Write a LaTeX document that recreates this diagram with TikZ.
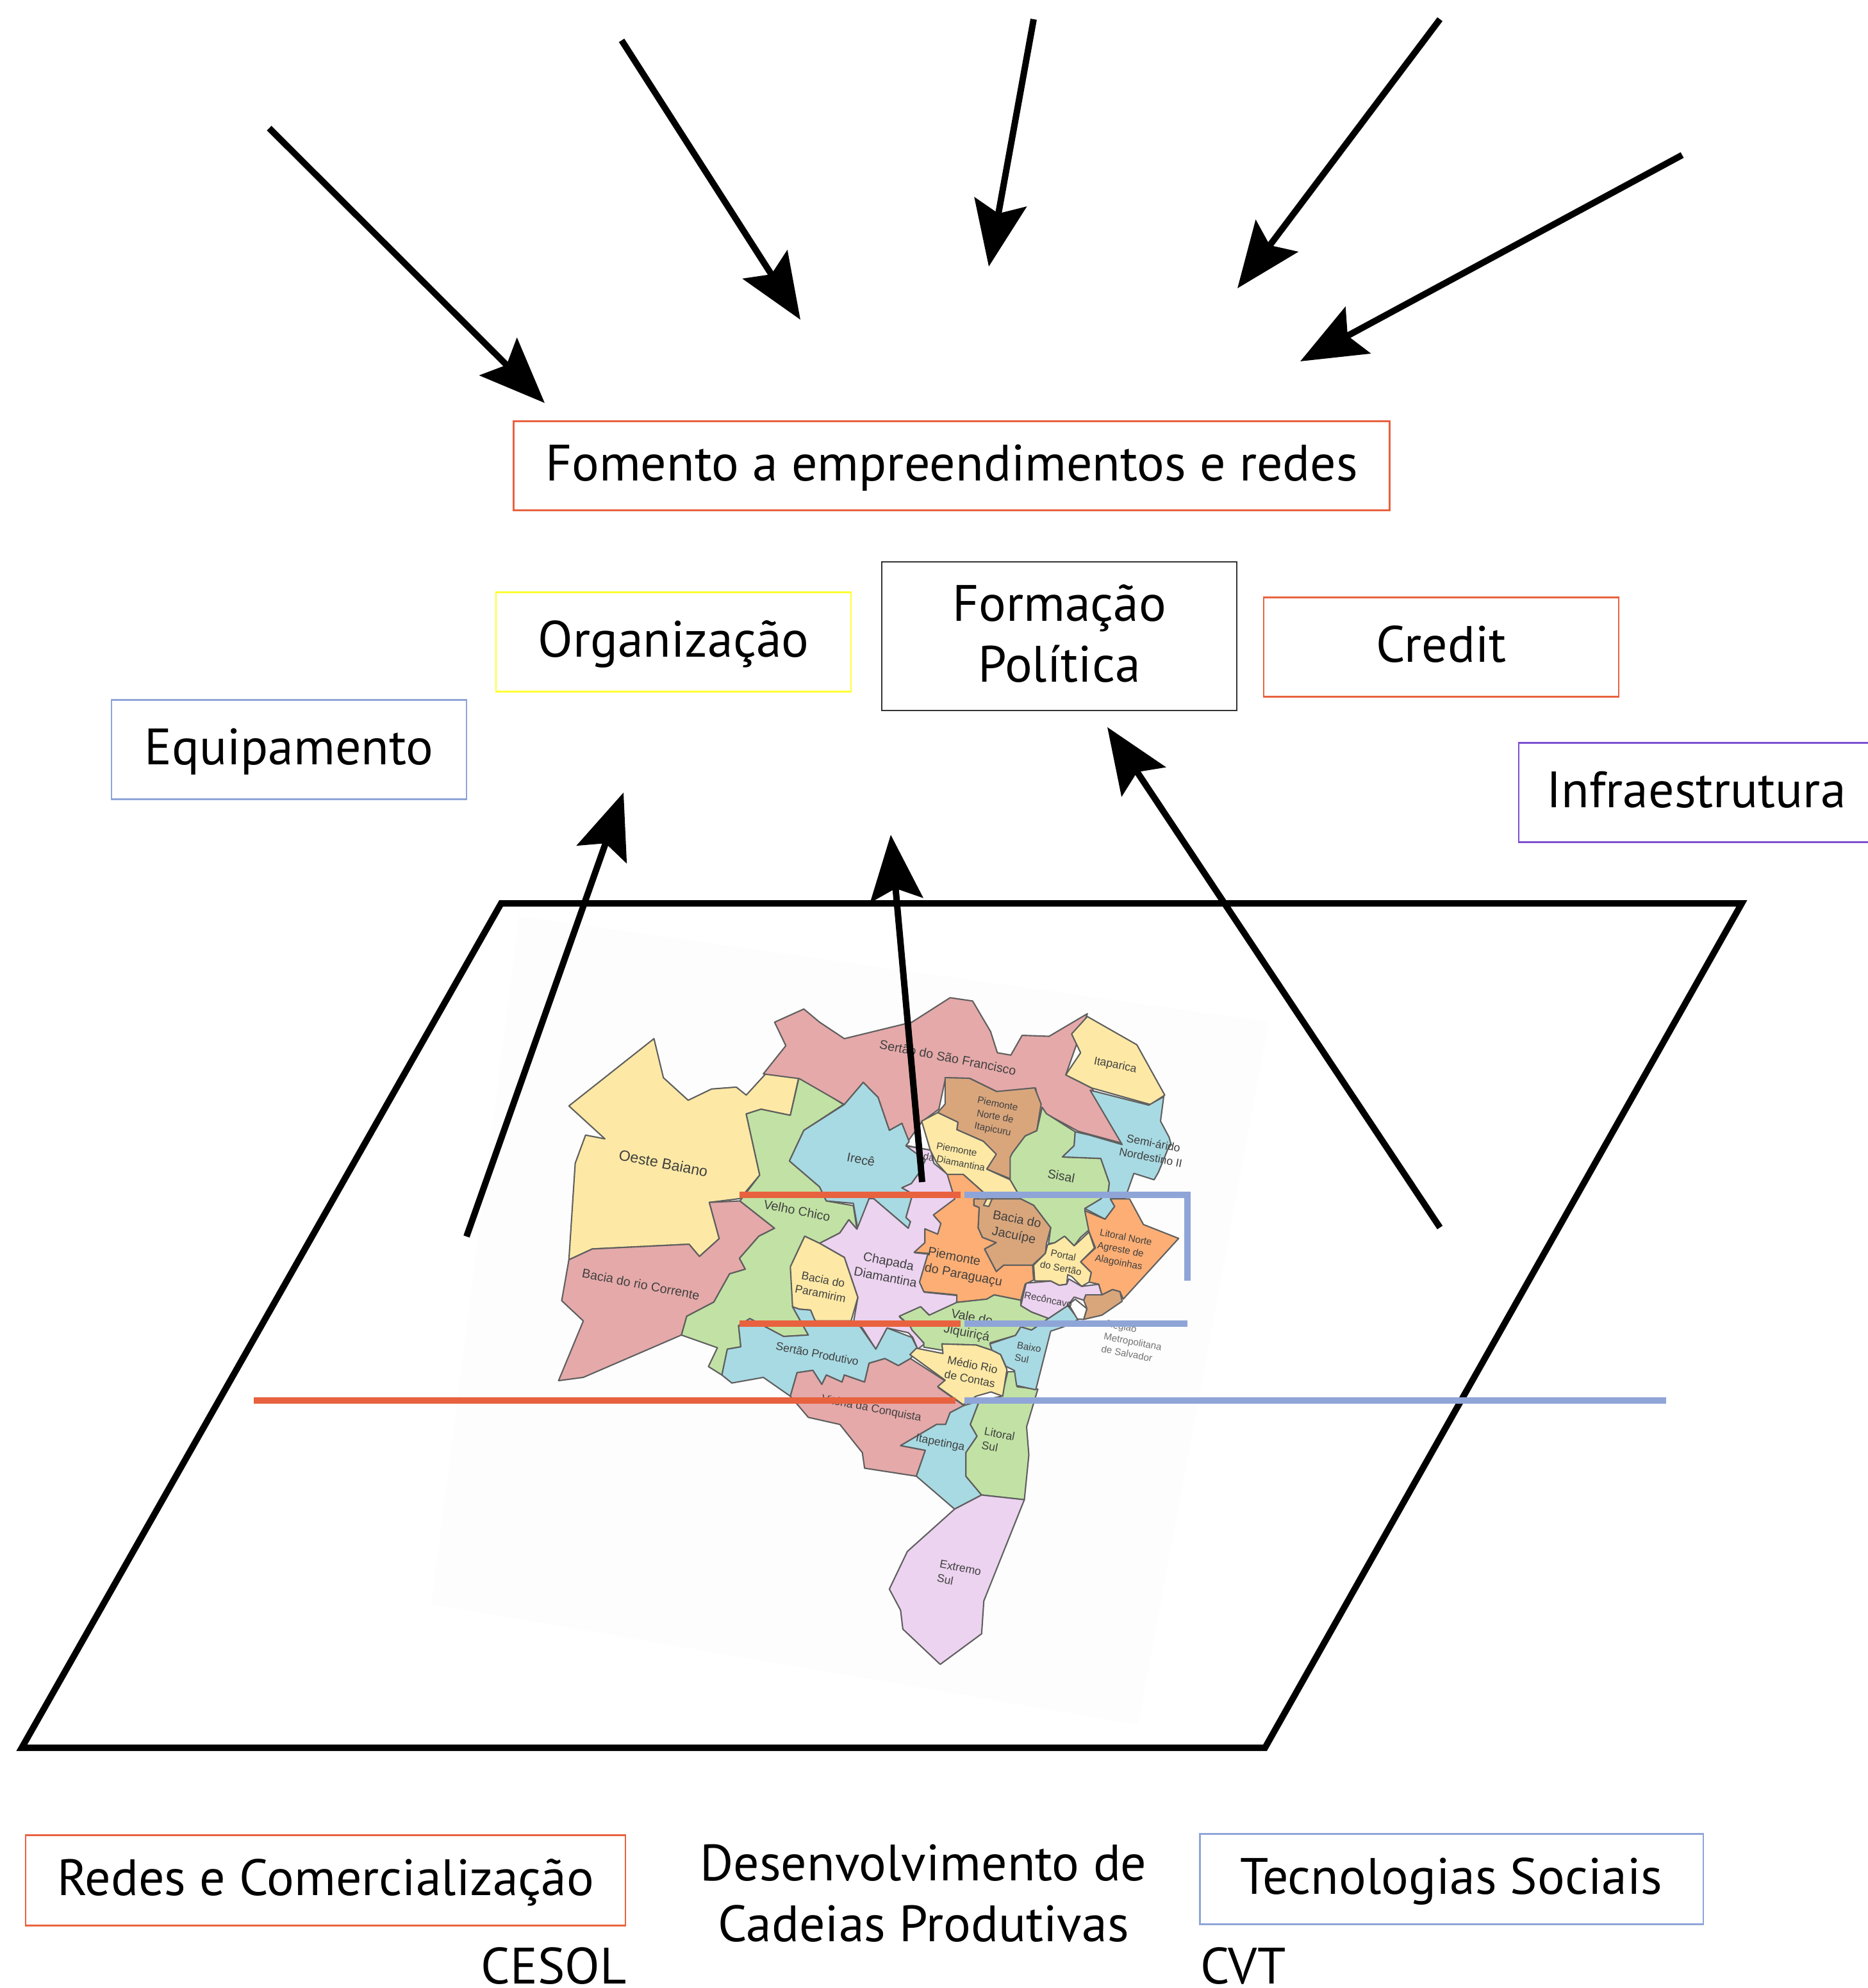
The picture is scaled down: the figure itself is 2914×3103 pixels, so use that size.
\documentclass[tikz,border=0pt]{standalone}
\usepackage{fontspec}
\setmainfont{PT Sans}
\newfontfamily\mapfont{Liberation Sans}
\usetikzlibrary{arrows.meta}
\definecolor{vermelho}{HTML}{E8623F}
\definecolor{azul}{HTML}{8FA5D8}
\definecolor{amarelo}{HTML}{FFFF33}
\definecolor{roxo}{HTML}{7B4FD0}
\definecolor{escuro}{HTML}{333333}
\definecolor{mapafundo}{HTML}{FDFDFD}
\definecolor{mapalinha}{HTML}{5F5F5F}
\definecolor{maparosa}{HTML}{E5A9A9}
\definecolor{mapagema}{HTML}{FDE9A5}
\definecolor{mapaverde}{HTML}{C1E2A4}
\definecolor{mapaazul}{HTML}{A8DAE3}
\definecolor{mapamarrom}{HTML}{D9A67C}
\definecolor{mapalaranja}{HTML}{FCAE74}
\definecolor{mapalilas}{HTML}{ECD3F0}
\tikzset{
  caixa/.style={draw, line width=0.7pt, minimum width=5.54cm, minimum height=1.55cm, align=center, inner sep=0pt, font=\fontsize{22.7}{27}\selectfont},
  linha/.style={text height=0.62cm, text depth=0.15cm},
  texto/.style={align=center, inner sep=0pt, font=\fontsize{22.7}{27}\selectfont},
  seta/.style={line width=0.1cm, -{Stealth[length=1.02cm, width=0.82cm, inset=0.18cm]}},
  traco/.style={line width=0.1cm},
  regiao/.style={draw=mapalinha, line width=0.6pt, line join=round},
  nome/.style={text=black!75, inner sep=0pt, align=left, rotate=-11, font=\mapfont\fontsize{5.6}{7.2}\selectfont},
  nomeg/.style={nome, font=\mapfont\fontsize{6.6}{8}\selectfont},
  nomep/.style={nome, font=\mapfont\fontsize{5}{6.4}\selectfont},
  nomeq/.style={nome, font=\mapfont\fontsize{4.3}{5.7}\selectfont},
}
\begin{document}
\begin{tikzpicture}[x=0.01cm,y=-0.01cm]
\useasboundingbox (0,0) rectangle (2914,3103);
% fundo do mapa
\fill[mapafundo] (810,1430) -- (1980,1595) -- (1776,2692) -- (673,2504) -- cycle;
% mapa, parte externa
\begin{scope}[shift={(840,1500)},x=0.007015cm,y=-0.007334cm]
\filldraw[regiao, fill=mapagema] (68,308) -- (257,165) -- (278,248) -- (333,296) -- (385,272) -- (440,268) -- (462,285) -- (505,240) -- (580,242) -- (560,328) -- (495,315) -- (462,325) -- (492,455) -- (448,505) -- (380,513) -- (402,590) -- (358,628) -- (335,602) -- (120,612) -- (68,635) -- (82,430) -- (105,370) -- (148,378) -- cycle;
\filldraw[regiao, fill=maparosa] (68,635) -- (120,612) -- (335,602) -- (358,628) -- (402,590) -- (380,513) -- (448,510) -- (525,568) -- (490,585) -- (447,632) -- (460,655) -- (425,665) -- (390,725) -- (330,755) -- (318,795) -- (100,885) -- (45,892) -- (100,765) -- (52,722) -- cycle;
\filldraw[regiao, fill=mapaverde] (462,325) -- (495,315) -- (560,328) -- (580,245) -- (678,305) -- (590,360) -- (558,425) -- (625,480) -- (640,510) -- (700,520) -- (708,570) -- (690,550) -- (670,578) -- (625,600) -- (592,585) -- (565,640) -- (565,735) -- (600,795) -- (545,798) -- (470,760) -- (445,775) -- (450,820) -- (420,825) -- (408,880) -- (378,862) -- (398,822) -- (318,795) -- (330,755) -- (390,725) -- (425,665) -- (460,655) -- (447,632) -- (490,585) -- (525,568) -- (448,510) -- (492,455) -- cycle;
\filldraw[regiao, fill=maparosa] (500,240) -- (550,180) -- (525,130) -- (590,102) -- (625,130) -- (680,165) -- (830,130) -- (915,78) -- (965,85) -- (1005,150) -- (1020,195) -- (1050,200) -- (1075,158) -- (1135,160) -- (1220,112) -- (1172,242) -- (1230,270) -- (1300,388) -- (1200,362) -- (1115,318) -- (1105,270) -- (1020,278) -- (960,250) -- (905,248) -- (890,315) -- (853,341) -- (817,389) -- (808,345) -- (780,360) -- (755,290) -- (722,258) -- (680,305) -- (580,250) -- cycle;
\filldraw[regiao, fill=mapagema] (1220,118) -- (1330,178) -- (1392,285) -- (1360,305) -- (1230,270) -- (1172,242) -- (1205,195) -- (1185,155) -- cycle;
\filldraw[regiao, fill=mapaazul] (680,305) -- (722,258) -- (755,290) -- (780,360) -- (808,345) -- (824,384) -- (817,392) -- (870,402) -- (848,448) -- (829,473) -- (808,482) -- (832,495) -- (817,545) -- (827,554) -- (822,568) -- (745,505) -- (735,505) -- (710,570) -- (700,515) -- (640,510) -- (625,480) -- (558,425) -- (590,360) -- cycle;
\filldraw[regiao, fill=mapalilas] (817,393) -- (872,402) -- (879,430) -- (910,454) -- (927,507) -- (879,541) -- (896,559) -- (889,582) -- (860,570) -- (860,600) -- (836,620) -- (867,623) -- (848,684) -- (858,704) -- (931,711) -- (929,727) -- (870,754) -- (851,736) -- (803,757) -- (827,777) -- (858,814) -- (843,825) -- (832,800) -- (822,790) -- (775,780) -- (750,825) -- (720,780) -- (700,770) -- (710,715) -- (680,630) -- (625,600) -- (670,578) -- (690,550) -- (708,570) -- (735,505) -- (745,505) -- (822,568) -- (827,554) -- (817,545) -- (832,495) -- (808,482) -- (829,473) -- (848,448) -- (860,423) -- cycle;
\filldraw[regiao, fill=mapagema] (592,585) -- (625,600) -- (680,630) -- (710,715) -- (695,765) -- (615,765) -- (605,742) -- (580,740) -- (565,735) -- (560,650) -- cycle;
\filldraw[regiao, fill=mapaazul] (445,775) -- (470,760) -- (545,798) -- (600,795) -- (565,735) -- (580,740) -- (605,742) -- (615,765) -- (710,770) -- (750,825) -- (775,780) -- (830,800) -- (843,825) -- (827,845) -- (800,860) -- (770,845) -- (735,855) -- (725,895) -- (680,880) -- (675,895) -- (640,880) -- (630,900) -- (610,870) -- (575,875) -- (560,925) -- (500,885) -- (430,897) -- (408,880) -- (420,825) -- (450,820) -- cycle;
\filldraw[regiao, fill=maparosa] (575,875) -- (610,870) -- (630,900) -- (640,880) -- (675,895) -- (680,880) -- (725,895) -- (735,855) -- (770,845) -- (800,860) -- (827,845) -- (905,893) -- (889,907) -- (946,945) -- (915,960) -- (905,985) -- (885,985) -- (805,1030) -- (860,1040) -- (840,1095) -- (725,1078) -- (720,1045) -- (670,985) -- (600,970) -- (560,925) -- cycle;
\filldraw[regiao, fill=mapaazul] (805,1030) -- (885,985) -- (905,985) -- (915,960) -- (945,945) -- (980,935) -- (960,985) -- (975,1010) -- (950,1045) -- (950,1095) -- (985,1135) -- (925,1165) -- (840,1095) -- (860,1040) -- cycle;
\filldraw[regiao, fill=mapaverde] (1043,873) -- (1060,873) -- (1064,905) -- (1110,910) -- (1085,990) -- (1090,1050) -- (1080,1145) -- (985,1135) -- (950,1095) -- (950,1045) -- (975,1010) -- (960,985) -- (980,935) -- (1030,925) -- cycle;
\filldraw[regiao, fill=mapalilas] (925,1165) -- (985,1135) -- (1080,1145) -- (990,1360) -- (985,1430) -- (893,1495) -- (810,1420) -- (805,1380) -- (780,1335) -- (820,1255) -- cycle;
\end{scope}
% mapa, parte central
\begin{scope}[shift={(1380,1700)},x=0.003333cm,y=-0.003333cm]
\filldraw[regiao, fill=mapamarrom] (285,-54) -- (399,-51) -- (526,11) -- (705,-6) -- (735,70) -- (715,195) -- (660,220) -- (600,300) -- (590,420) -- (480,375) -- (520,305) -- (465,245) -- (340,190) -- (345,155) -- (250,110) -- (285,70) -- cycle;
\filldraw[regiao, fill=mapagema] (175,150) -- (250,110) -- (345,155) -- (340,190) -- (465,245) -- (525,305) -- (480,375) -- (590,425) -- (622,480) -- (640,515) -- (510,515) -- (460,480) -- (370,400) -- (295,400) -- (245,345) -- (215,285) -- cycle;
\filldraw[regiao, fill=mapaverde] (740,85) -- (760,115) -- (895,200) -- (890,265) -- (835,318) -- (1015,325) -- (1055,440) -- (1050,480) -- (1015,515) -- (940,560) -- (960,660) -- (920,695) -- (890,735) -- (845,690) -- (800,720) -- (770,725) -- (780,650) -- (700,545) -- (640,515) -- (622,480) -- (590,425) -- (590,320) -- (600,300) -- (660,220) -- (715,195) -- cycle;
\filldraw[regiao, fill=mapaazul] (965,5) -- (1240,75) -- (1310,35) -- (1295,150) -- (1335,225) -- (1345,260) -- (1330,280) -- (1285,390) -- (1265,425) -- (1170,395) -- (1140,480) -- (1130,510) -- (1060,515) -- (1080,550) -- (1035,610) -- (940,560) -- (1015,515) -- (1050,480) -- (1055,440) -- (1015,325) -- (835,318) -- (890,265) -- (895,200) -- (960,215) -- (1115,260) -- cycle;
\filldraw[regiao, fill=mapalaranja] (295,400) -- (370,400) -- (460,480) -- (440,515) -- (420,545) -- (445,555) -- (440,650) -- (460,695) -- (525,720) -- (470,750) -- (525,855) -- (560,825) -- (695,825) -- (700,895) -- (660,915) -- (640,990) -- (515,965) -- (480,985) -- (340,1000) -- (340,965) -- (185,950) -- (165,905) -- (205,770) -- (140,765) -- (190,720) -- (190,655) -- (250,680) -- (265,630) -- (230,590) -- (330,515) -- cycle;
\filldraw[regiao, fill=mapamarrom] (420,515) -- (640,515) -- (700,545) -- (780,650) -- (760,725) -- (755,770) -- (695,825) -- (560,825) -- (525,855) -- (470,750) -- (525,720) -- (460,695) -- (440,650) -- (445,555) -- (420,545) -- cycle;
\filldraw[regiao, fill=mapagema] (465,545) -- (480,515) -- (505,515) -- (490,550) -- cycle;
\filldraw[regiao, fill=mapalaranja] (940,570) -- (1035,610) -- (1080,550) -- (1060,515) -- (1150,515) -- (1215,635) -- (1380,700) -- (1120,985) -- (1105,950) -- (1070,940) -- (1020,965) -- (1005,915) -- (960,905) -- (970,860) -- (920,810) -- (990,745) -- (960,670) -- cycle;
\filldraw[regiao, fill=mapagema] (765,730) -- (800,720) -- (845,690) -- (890,735) -- (960,670) -- (985,745) -- (920,810) -- (970,860) -- (960,905) -- (925,925) -- (880,880) -- (860,870) -- (855,915) -- (820,920) -- (780,900) -- (705,900) -- (700,825) -- (755,770) -- cycle;
\filldraw[regiao, fill=mapaverde] (70,1065) -- (170,1020) -- (210,1060) -- (340,1000) -- (480,985) -- (515,965) -- (640,990) -- (640,1015) -- (690,1045) -- (770,1075) -- (720,1110) -- (690,1130) -- (640,1115) -- (615,1155) -- (495,1190) -- (505,1225) -- (430,1200) -- (270,1195) -- (275,1225) -- (185,1210) -- (185,1190) -- (130,1130) -- (120,1110) -- cycle;
\filldraw[regiao, fill=mapaazul] (495,1195) -- (615,1155) -- (640,1115) -- (690,1130) -- (720,1110) -- (770,1075) -- (860,1015) -- (910,1080) -- (840,1115) -- (780,1135) -- (710,1410) -- (620,1390) -- (610,1320) -- (570,1300) -- (545,1245) -- (505,1225) -- cycle;
\filldraw[regiao, fill=mapalilas] (665,910) -- (780,900) -- (820,920) -- (855,915) -- (865,890) -- (925,925) -- (1005,915) -- (1020,965) -- (945,965) -- (935,990) -- (890,975) -- (860,1015) -- (770,1075) -- (690,1045) -- (640,1015) -- cycle;
\filldraw[regiao, fill=white] (865,1010) -- (895,985) -- (950,1030) -- (935,1080) -- (905,1078) -- cycle;
\filldraw[regiao, fill=mapamarrom] (945,965) -- (1020,965) -- (1070,940) -- (1105,950) -- (1115,995) -- (1020,1060) -- (935,1080) -- (950,1030) -- (935,990) -- cycle;
\filldraw[regiao, fill=mapagema] (120,1245) -- (150,1215) -- (275,1240) -- (270,1195) -- (430,1200) -- (505,1225) -- (545,1245) -- (575,1315) -- (555,1440) -- (500,1420) -- (430,1440) -- (370,1480) -- (250,1395) -- (285,1365) -- cycle;
\end{scope}
% nomes das regioes
\begin{scope}[shift={(840,1500)},x=0.007015cm,y=-0.007334cm]
\node[nomeg] (oeste) at (278,430) {Oeste Baiano};
\node[nome] (corrente) at (228,687) {Bacia do rio Corrente};
\node[nome] (saofrancisco) at (910,205) {Sertão do São Francisco};
\node[nomep] (itaparica) at (1282,222) {Itaparica};
\node[nomep, align=center] (semiarido) at (1364,402) {Semi-árido\\Nordestino II};
\node[nome] (irece) at (717,422) {Irecê};
\node[nomeq, align=center] (itapicuru) at (1015,332) {Piemonte\\Norte de\\Itapicuru};
\node[nomeq, align=center] (pdiamantina) at (927,414) {Piemonte\\da Diamantina};
\node[nome] (sisal) at (1162,457) {Sisal};
\node[nome] (velho) at (575,530) {Velho Chico};
\node[nome, align=center] (chapada) at (775,655) {Chapada\\Diamantina};
\node[nomep, align=center] (paramirim) at (630,692) {Bacia do\\Paramirim};
\node[nome, align=left] (paraguacu) at (948,652) {Piemonte\\do Paraguaçu};
\node[nome, align=center] (jacuipe) at (1060,568) {Bacia do\\Jacuípe};
\node[nomeq, align=center] (portal) at (1164,639) {Portal\\do Sertão};
\node[nomeq, align=left] (litoralnorte) at (1300,616) {Litoral Norte\\Agreste de\\Alagoinhas};
\node[nomeq] (reconcavo) at (1133,720) {Recôncavo};
\node[nome, align=right] (jiquirica) at (955,775) {Vale do\hspace{0.2em}\\Jiquiriçá};
\node[nomeq, align=left] (baixosul) at (1088,834) {Baixo\\Sul};
\node[nomeq, text=black!55, align=left] (salvador) at (1321,809) {Região\\Metropolitana\\de Salvador};
\node[nomep, align=center] (medio) at (962,873) {Médio Rio\\de Contas};
\node[nomep] (produtivo) at (620,835) {Sertão Produtivo};
\node[nomep] (conquista) at (740,952) {Vitória da Conquista};
\node[nomep] (itapetinga) at (893,1025) {Itapetinga};
\node[nomep, align=left] (litoralsul) at (1022,1020) {Litoral\\Sul};
\node[nomep, align=left] (extremo) at (935,1305) {Extremo\\Sul};
\end{scope}
% plano
\draw[line width=0.1cm, miter limit=10] (782,1410) -- (2718,1410) -- (1974,2728) -- (34,2728) -- cycle;
% linhas dos eixos
\coordinate (redesa) at (1154,1865);
\coordinate (redesb) at (1499,1865);
\coordinate (redesc) at (1154,2066);
\coordinate (redesd) at (1499,2066);
\coordinate (redese) at (396,2186);
\coordinate (redesf) at (1491,2186);
\coordinate (tecna) at (1505,1865);
\coordinate (tecnb) at (1853,1865);
\coordinate (tecnc) at (1853,1999);
\coordinate (tecnd) at (1505,2066);
\coordinate (tecne) at (1853,2066);
\coordinate (tecnf) at (1505,2186);
\coordinate (tecng) at (2600,2186);
\draw[traco, vermelho] (redesa) -- (redesb);
\draw[traco, vermelho] (redesc) -- (redesd);
\draw[traco, vermelho] (redese) -- (redesf);
\draw[traco, azul] (tecna) -- (tecnb) -- (tecnc);
\draw[traco, azul] (tecnd) -- (tecne);
\draw[traco, azul] (tecnf) -- (tecng);
% caixas
\node[caixa, linha, draw=vermelho, minimum width=13.66cm, minimum height=1.39cm] (fomento) at (1485,727) {Fomento a empreendimentos e redes};
\node[caixa, linha, draw=amarelo] (organizacao) at (1051,1002) {Organização};
\node[caixa, draw=escuro, minimum height=2.32cm, text height=1.52cm, text depth=0.1cm] (formacao) at (1653,993) {Formação\\Política};
\node[caixa, linha, draw=vermelho] (credit) at (2249,1010) {Credit};
\node[caixa, linha, draw=azul] (equipamento) at (451,1170) {Equipamento};
\node[caixa, linha, draw=roxo] (infra) at (2647,1237) {Infraestrutura};
\node[caixa, linha, draw=vermelho, minimum width=9.35cm, minimum height=1.41cm] (redes) at (508,2935) {Redes e Comercialização};
\node[texto] (cadeias) at (1441,2955) {Desenvolvimento de\\Cadeias Produtivas};
\node[caixa, linha, draw=azul, minimum width=7.85cm, minimum height=1.41cm] (tecnologias) at (2265,2933) {Tecnologias Sociais};
\node[texto, anchor=base] (cesol) at (864,3096) {CESOL};
\node[texto, anchor=base] (cvt) at (1940,3096) {CVT};
% setas de cima
\coordinate (a1) at (420,200);
\coordinate (b1) at (850,629);
\coordinate (a2) at (970,63);
\coordinate (b2) at (1249,499);
\coordinate (a3) at (1613,30);
\coordinate (b3) at (1543,416);
\coordinate (a4) at (2247,30);
\coordinate (b4) at (1931,450);
\coordinate (a5) at (2625,242);
\coordinate (b5) at (2029,564);
\draw[seta] (a1) -- (b1);
\draw[seta] (a2) -- (b2);
\draw[seta] (a3) -- (b3);
\draw[seta] (a4) -- (b4);
\draw[seta] (a5) -- (b5);
% setas de baixo
\coordinate (c1) at (728,1930);
\coordinate (d1) at (973,1237);
\coordinate (c2) at (1439,1845);
\coordinate (d2) at (1390,1303);
\coordinate (c3) at (2247,1916);
\coordinate (d3) at (1728,1135);
\draw[seta] (c1) -- (d1);
\draw[seta] (c2) -- (d2);
\draw[seta] (c3) -- (d3);
\end{tikzpicture}
\end{document}
